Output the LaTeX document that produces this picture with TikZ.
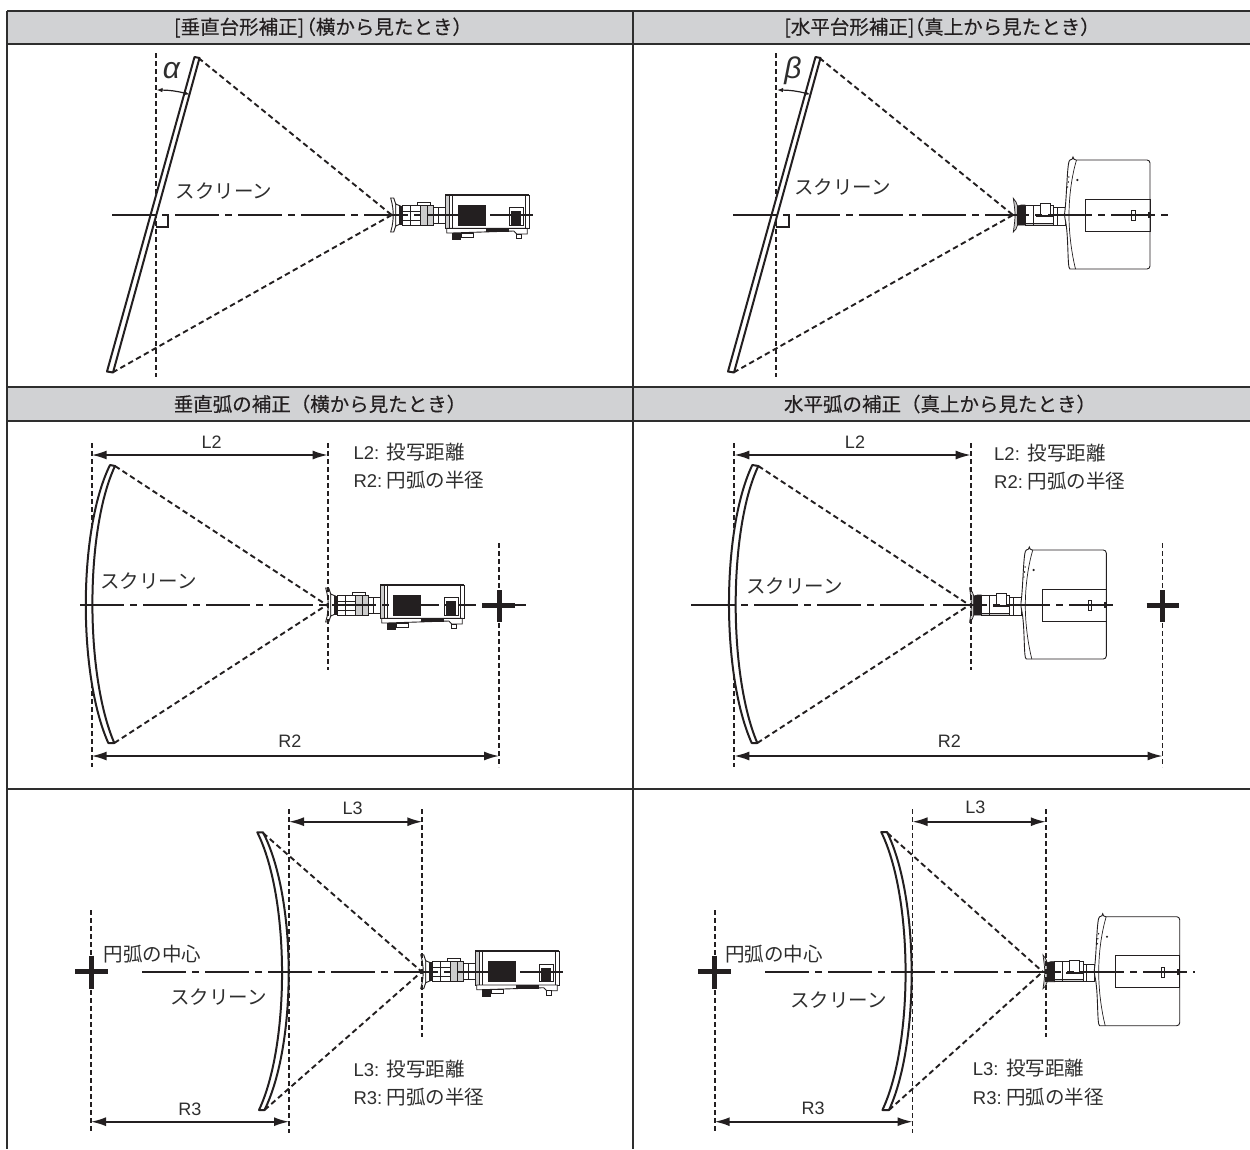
\documentclass[tikz,border=0pt]{standalone}
\usepackage{fontspec}
\setmainfont{Liberation Sans}
\newfontfamily\jp{Noto Sans CJK JP}
\newfontfamily\jphead[FakeBold=0.25]{Noto Sans CJK JP}
\usetikzlibrary{arrows.meta}
\definecolor{band}{HTML}{D1D2D4}
\definecolor{rule}{HTML}{2E2E2E}
\definecolor{ink}{HTML}{231F20}
\definecolor{txt}{HTML}{2E2E2E}
\newcommand{\legendline}[2]{\makebox[33.3pt][l]{#1}{\jp\fontsize{19.5}{22}\selectfont #2}}
\tikzset{
  tablerule/.style={draw=rule,line width=1.8pt},
  ray/.style={draw=ink,line width=1.9pt,dash pattern=on 5.5pt off 3.5pt},
  guide/.style={draw=ink,line width=1.8pt,dash pattern=on 5pt off 3pt},
  axisline/.style={draw=ink,line width=2pt,dash pattern=on 44pt off 6pt on 7pt off 6pt},
  dimarrow/.style={draw=ink,line width=1.7pt,{Latex[length=15pt,width=9pt]}-{Latex[length=15pt,width=9pt]}},
  anglearrow/.style={draw=ink,line width=1.2pt,{Latex[length=6pt,width=4.5pt]}-{Latex[length=6pt,width=4.5pt]}},
  screenbody/.style={draw=ink,line width=2pt,fill=white,line join=round},
  crossbar/.style={draw=ink,line width=5pt},
  headtext/.style={inner sep=0pt,text=ink,font=\jphead\fontsize{19.5}{22}\selectfont},
  jptext/.style={inner sep=0pt,text=txt,font=\jp\fontsize{19.5}{22}\selectfont},
  dimtext/.style={inner sep=0pt,text=txt,font=\fontsize{18}{20}\selectfont},
  legendtext/.style={inner sep=0pt,anchor=west,text=txt,font=\fontsize{18.5}{22}\selectfont},
  greekmark/.style={inner sep=0pt,text=txt,font=\fontsize{30}{30}\selectfont\itshape},
  po/.style={draw=ink,line width=.9pt,fill=white},
  pd/.style={draw=ink,line width=.6pt,fill=ink},
  pg/.style={draw=ink,line width=.7pt,fill=gray!40},
  pl/.style={draw=ink,line width=.7pt},
}
% side view of the projector, origin at the lens tip
\newcommand{\sideprojector}[2]{%
\begin{scope}[shift={(#1,#2)}]
  \path[po] (-1,-17) .. controls (1,-10) and (1.5,-5) .. (1.5,0) .. controls (1.5,5) and (1,10) .. (-1,17) -- (2,17) -- (4,11) -- (4,-11) -- (2,-17) -- cycle;
  \path[po] (4,-11) -- (11,-8) -- (11,8) -- (4,11) -- cycle;
  \path[pd] (8,-9) rectangle (11,9);
  \path[po] (11,-10) rectangle (41.5,10);
  \path[pg] (29,-10) rectangle (41.5,10);
  \path[po] (11,-4) rectangle (29,5);
  \path[pl] (19,-10) -- (19,10) (36,-10) -- (36,10);
  \path[po] (26,-13) rectangle (39,-10);
  \path[po] (41.5,-8) rectangle (54,8);
  \path[pl] (47,-8) -- (47,8);
  \path[po] (53.3,-20) rectangle (137.6,13.3);
  \path[pl] (53.3,-21) -- (137.6,-21);
  \path[pg] (53.3,-20) rectangle (57.3,13.3);
  \path[pl] (61,-20) -- (61,13.3) (134,-20) -- (134,13.3);
  \path[pd] (66.6,-10) rectangle (93.3,10);
  \path[po] (117.6,-7.7) rectangle (131.6,10);
  \path[pd] (120,-3.5) rectangle (129,9);
  \path[po] (55,13.3) -- (135.5,13.3) -- (135.5,19) -- (125,19) -- (122,16) -- (60,18) -- (55,18) -- cycle;
  \path[pd] (94.3,13.3) rectangle (116.6,16.5);
  \path[pd] (61,18.3) rectangle (68.3,24.3);
  \path[po] (70,18) rectangle (82,22);
  \path[po] (124.5,19) rectangle (130,23.5);
\end{scope}}
% top view of the projector, origin at the lens tip
\newcommand{\topprojector}[2]{%
\begin{scope}[shift={(#1,#2)}]
  \path[pg] (0.3,-16.7) .. controls (1.5,-8) and (2,-4) .. (2,0) .. controls (2,4) and (1.5,9) .. (0.3,17) -- (3,14) -- (4.5,10) -- (4.5,-9) -- (3,-13) -- cycle;
  \path[pd] (4.5,-9) -- (8,-10) -- (12,-10) -- (12,10) -- (8,10) -- (4.5,10) -- cycle;
  \path[po] (12,-10) rectangle (40.3,10);
  \path[pg] (12,8) rectangle (40.3,10);
  \path[pl] (20,-10) -- (20,10);
  \path[po] (27,-11.7) rectangle (37,1.7);
  \path[pd] (23.7,0.2) rectangle (40.3,1.7);
  \path[po] (40.3,-7.7) rectangle (52,10);
  \path[pl] (44,-7.7) -- (44,10);
  \path[po,rounded corners=3pt] (60,-55) -- (137,-55) -- (137,54) -- (60,54) .. controls (54,54) and (56,20) .. (51.3,0.7) .. controls (54,-20) and (54,-55) .. (60,-55) -- cycle;
  \path[pl] (63.5,-55) .. controls (59,-40) and (56,-20) .. (56,0.7) .. controls (56,20) and (59,40) .. (62.5,54);
  \path[pl] (72.7,-16) rectangle (137,16);
  \fill[ink] (64.3,-35) circle (1.2pt) (55.8,-38) circle (.8pt) (55.2,-33) circle (.8pt) (54.6,-28) circle (.8pt);
  \path[po] (118.7,-4.3) rectangle (122,5.7);
  \path[pd] (135,-2.5) rectangle (136,2.5);
\end{scope}}
\begin{document}
\begin{tikzpicture}[x=1pt,y=-1pt]
\useasboundingbox (0,0) rectangle (1250,1149);
\fill[white] (0,0) rectangle (1250,1149);
% ---------- table
\fill[band] (7,11) rectangle (1250,44);
\fill[band] (7,387) rectangle (1250,421);
\path[tablerule] (7,11) -- (1250,11) (7,44) -- (1250,44) (7,387) -- (1250,387) (7,421) -- (1250,421) (7,789) -- (1250,789);
\path[tablerule] (7,11) -- (7,1149) (633,11) -- (633,1149);
\node[headtext] (h1) at (323,27.5) {[垂直台形補正]\kern-.4em（横から見たとき）};
\node[headtext] (h2) at (942,27.5) {[水平台形補正]\kern-.5em（真上から見たとき）};
\node[headtext] (h3) at (320,404) {垂直弧の補正（横から見たとき）};
\node[headtext] (h4) at (940,404) {水平弧の補正（真上から見たとき）};
% ---------- panel A
\coordinate (aTip) at (391.7,215);
\coordinate (aS1) at (198.5,58);
\coordinate (aS2) at (112.5,372.5);
\coordinate (aVa) at (156,53);
\coordinate (aVb) at (156,377);
\coordinate (aAa) at (112,215);
\coordinate (aAb) at (533,215);
\coordinate (aG1) at (156.5,90);
\coordinate (aG2) at (190,94.5);
\sideprojector{391.7}{215}
\path[guide] (aVa) -- (aVb);
\path[screenbody] (194.5,57) -- (199.5,58) -- (113,372.5) -- (107,371.5) -- cycle;
\path[ray] (aS1) -- (aTip);
\path[ray] (aS2) -- (aTip);
\path[axisline] (aAa) -- (aAb);
\path[draw=ink,line width=1.7pt] (156,227) -- (168.3,227) -- (168.3,215);
\path[anglearrow] (aG1) to[bend left=7] (aG2);
\node[greekmark] (aAlpha) at (171.5,70.5) {α};
\node[jptext] (aScr) at (224,191.5) {スクリーン};
% ---------- panel B
\coordinate (bTip) at (1013,215);
\coordinate (bS1) at (819.5,58);
\coordinate (bS2) at (733.5,372.5);
\coordinate (bVa) at (776,53);
\coordinate (bVb) at (776,377);
\coordinate (bAa) at (733,215);
\coordinate (bAb) at (1168,215);
\coordinate (bG1) at (777,90);
\coordinate (bG2) at (810.5,94.5);
\topprojector{1013}{215}
\path[guide] (bVa) -- (bVb);
\path[screenbody] (815.5,57) -- (820.5,58) -- (734,372.5) -- (728,371.5) -- cycle;
\path[ray] (bS1) -- (bTip);
\path[ray] (bS2) -- (bTip);
\path[axisline] (bAa) -- (bAb);
\path[draw=ink,line width=1.7pt] (776,227) -- (789,227) -- (789,215);
\path[anglearrow] (bG1) to[bend left=7] (bG2);
\node[greekmark] (bBeta) at (793,71) {β};
\node[jptext] (bScr) at (842.5,187.5) {スクリーン};
% ---------- panel C
\coordinate (cTip) at (326.7,605);
\coordinate (cS1) at (115,466);
\coordinate (cS2) at (114.3,743);
\coordinate (cVa) at (91.7,443);
\coordinate (cVb) at (91.7,767);
\coordinate (cMa) at (327.7,443);
\coordinate (cMb) at (327.7,670);
\coordinate (cRa) at (499,543);
\coordinate (cRb) at (499,767);
\coordinate (cAa) at (80,605);
\coordinate (cAb) at (476,605);
\coordinate (cLa) at (91.7,455);
\coordinate (cLb) at (327.7,455);
\coordinate (cHa) at (91.7,756);
\coordinate (cHb) at (499,756);
\coordinate (cXl) at (482,605);
\coordinate (cXr) at (515,605);
\coordinate (cXt) at (499,590);
\coordinate (cXb) at (499,622);
\coordinate (cXe) at (526,605);
\sideprojector{326.7}{605}
\path[guide] (cVa) -- (cVb);
\path[guide] (cMa) -- (cMb);
\path[guide] (cRa) -- (cRb);
\path[screenbody] (110,465) .. controls (78,530) and (78,675) .. (108.3,743) -- (114.3,743) .. controls (85,675) and (85,530) .. (115,466) -- cycle;
\path[ray] (cS1) -- (cTip);
\path[ray] (cS2) -- (cTip);
\path[axisline] (cAa) -- (cAb);
\path[crossbar] (cXl) -- (cXr) (cXt) -- (cXb);
\path[draw=ink,line width=2pt] (cXr) -- (cXe);
\path[dimarrow] (cLa) -- (cLb);
\path[dimarrow] (cHa) -- (cHb);
\node[dimtext] (cL2) at (211.7,442.5) {L2};
\node[dimtext] (cR2) at (290,741.5) {R2};
\node[legendtext] (cLeg1) at (353.3,452.5) {\legendline{L2:}{投写距離}};
\node[legendtext] (cLeg2) at (353.3,480) {\legendline{R2:}{円弧の半径}};
\node[jptext] (cScr) at (148.3,581.5) {スクリーン};
% ---------- panel D
\coordinate (dTip) at (969.3,605);
\coordinate (dS1) at (758.3,466);
\coordinate (dS2) at (757.3,743);
\coordinate (dVa) at (734.3,443);
\coordinate (dVb) at (734.3,767);
\coordinate (dMa) at (970.7,443);
\coordinate (dMb) at (970.7,670);
\coordinate (dRa) at (1162.5,543);
\coordinate (dRb) at (1162.5,767);
\coordinate (dAa) at (691,605);
\coordinate (dAb) at (1118,605);
\coordinate (dLa) at (734.3,455);
\coordinate (dLb) at (970.7,455);
\coordinate (dHa) at (734.3,756);
\coordinate (dHb) at (1162.5,756);
\coordinate (dXl) at (1146.5,605);
\coordinate (dXr) at (1179,605);
\coordinate (dXt) at (1162.5,590);
\coordinate (dXb) at (1162.5,622);
\topprojector{969.3}{605}
\path[guide] (dVa) -- (dVb);
\path[guide] (dMa) -- (dMb);
\path[guide] (dRa) -- (dRb);
\path[screenbody] (752.3,465) .. controls (721.3,530) and (721.3,675) .. (751.7,743) -- (757.3,743) .. controls (728.3,675) and (728.3,530) .. (758.3,466) -- cycle;
\path[ray] (dS1) -- (dTip);
\path[ray] (dS2) -- (dTip);
\path[axisline] (dAa) -- (dAb);
\path[crossbar] (dXl) -- (dXr) (dXt) -- (dXb);
\path[dimarrow] (dLa) -- (dLb);
\path[dimarrow] (dHa) -- (dHb);
\node[dimtext] (dL2) at (855,442.5) {L2};
\node[dimtext] (dR2) at (949.3,741.5) {R2};
\node[legendtext] (dLeg1) at (994,453) {\legendline{L2:}{投写距離}};
\node[legendtext] (dLeg2) at (994,481) {\legendline{R2:}{円弧の半径}};
\node[jptext] (dScr) at (794.3,586) {スクリーン};
% ---------- panel E
\coordinate (eTip) at (421.7,971.7);
\coordinate (eS1) at (263,833);
\coordinate (eS2) at (264.5,1110);
\coordinate (eVa) at (91,910);
\coordinate (eVb) at (91,1133);
\coordinate (eMa) at (289,809);
\coordinate (eMb) at (289,1133);
\coordinate (eRa) at (422.3,809);
\coordinate (eRb) at (422.3,1037);
\coordinate (eAa) at (142.3,971.7);
\coordinate (eAb) at (563,971.7);
\coordinate (eLa) at (289,821.7);
\coordinate (eLb) at (422.3,821.7);
\coordinate (eHa) at (91,1121.7);
\coordinate (eHb) at (289,1121.7);
\coordinate (eXl) at (75,971.7);
\coordinate (eXr) at (107.5,971.7);
\coordinate (eXt) at (91,955.5);
\coordinate (eXb) at (91,988.5);
\sideprojector{421.7}{971.7}
\path[guide] (eVa) -- (eVb);
\path[guide] (eMa) -- (eMb);
\path[guide] (eRa) -- (eRb);
\path[screenbody] (263,832.3) .. controls (297,898) and (297,1044) .. (264.5,1110) -- (259,1110) .. controls (290,1044) and (290,898) .. (257.3,832.3) -- cycle;
\path[ray] (eS1) -- (eTip);
\path[ray] (eS2) -- (eTip);
\path[axisline] (eAa) -- (eAb);
\path[crossbar] (eXl) -- (eXr) (eXt) -- (eXb);
\path[dimarrow] (eLa) -- (eLb);
\path[dimarrow] (eHa) -- (eHb);
\node[dimtext] (eL3) at (352.7,808.3) {L3};
\node[dimtext] (eR3) at (190,1109.3) {R3};
\node[jptext,anchor=west] (eCtr) at (103.3,954) {円弧の中心};
\node[jptext] (eScr) at (218.3,996.7) {スクリーン};
\node[legendtext] (eLeg1) at (353.3,1069.3) {\legendline{L3:}{投写距離}};
\node[legendtext] (eLeg2) at (353.3,1097.3) {\legendline{R3:}{円弧の半径}};
% ---------- panel F
\coordinate (fTip) at (1042.7,971.7);
\coordinate (fS1) at (887.5,833);
\coordinate (fS2) at (889,1110);
\coordinate (fVa) at (714.7,910);
\coordinate (fVb) at (714.7,1133);
\coordinate (fMa) at (912.5,809);
\coordinate (fMb) at (912.5,1133);
\coordinate (fRa) at (1045.8,809);
\coordinate (fRb) at (1045.8,1037);
\coordinate (fAa) at (765,971.7);
\coordinate (fAb) at (1194.5,971.7);
\coordinate (fLa) at (912.5,821.7);
\coordinate (fLb) at (1045.8,821.7);
\coordinate (fHa) at (714.7,1121.7);
\coordinate (fHb) at (912.5,1121.7);
\coordinate (fXl) at (698,971.7);
\coordinate (fXr) at (731,971.7);
\coordinate (fXt) at (714.7,955.5);
\coordinate (fXb) at (714.7,988.5);
\topprojector{1042.7}{971.7}
\path[guide] (fVa) -- (fVb);
\path[guide] (fMa) -- (fMb);
\path[guide] (fRa) -- (fRb);
\path[screenbody] (887,832) .. controls (919.5,898) and (919.5,1044) .. (889,1110) -- (882.4,1110) .. controls (913.5,1044) and (913.5,898) .. (881.2,832) -- cycle;
\path[ray] (fS1) -- (fTip);
\path[ray] (fS2) -- (fTip);
\path[axisline] (fAa) -- (fAb);
\path[crossbar] (fXl) -- (fXr) (fXt) -- (fXb);
\path[dimarrow] (fLa) -- (fLb);
\path[dimarrow] (fHa) -- (fHb);
\node[dimtext] (fL3) at (975.4,807.5) {L3};
\node[dimtext] (fR3) at (813,1108.5) {R3};
\node[jptext,anchor=west] (fCtr) at (724.8,954) {円弧の中心};
\node[jptext] (fScr) at (838.4,1000) {スクリーン};
\node[legendtext] (fLeg1) at (972.7,1068.3) {\legendline{L3:}{投写距離}};
\node[legendtext] (fLeg2) at (972.7,1096.7) {\legendline{R3:}{円弧の半径}};
\end{tikzpicture}
\end{document}
